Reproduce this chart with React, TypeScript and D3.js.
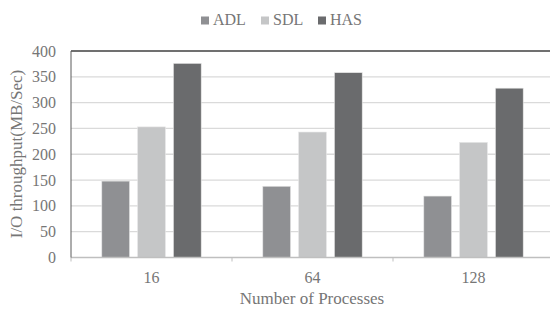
import React from 'react'
import * as d3 from 'd3'

const categories = ['16', '64', '128']
const seriesNames = ['ADL', 'SDL', 'HAS']
const adl = [148, 138, 119]
const sdl = [253, 243, 223]
const has = [376, 358, 328]
const yTicks = [0, 50, 100, 150, 200, 250, 300, 350, 400]

const colors = ['#8f9093', '#c5c6c7', '#6a6b6d']
const textColor = '#767676'
const font = "'Liberation Serif', 'Times New Roman', Times, serif"

const App = () => {
  const width = 550
  const height = 310
  const left = 71
  const right = 554
  const top = 51
  const bottom = 257.5

  const values = [adl, sdl, has]

  const x = d3.scaleBand().domain(categories).range([left, right])
  const xs = d3.scaleBand().domain(seriesNames).range([0, x.bandwidth()])
    .paddingInner(0.225).paddingOuter(0.86)
  const y = d3.scaleLinear().domain([0, 400]).range([bottom, top])

  // legend positions
  const legendX = [201, 261, 318]

  return (
    <svg width={width} height={height}
      style={{ position: 'absolute', left: 0, top: 0, background: '#fff', fontFamily: font }}>
      {yTicks.filter(t => t > 0).map(t => (
        <line key={'g' + t} x1={left} x2={width} y1={y(t)} y2={y(t)} stroke="#dadada" strokeWidth={1.3} />
      ))}

      {/* top border */}
      <line x1={left} x2={width} y1={top} y2={top} stroke="#4a4a4a" strokeWidth={1.3} />

      {categories.map((c, ci) => seriesNames.map((s, si) => {
        const v = values[si][ci]
        return (
          <rect key={c + s}
            x={x(c)! + xs(s)!}
            y={y(v)}
            width={xs.bandwidth()}
            height={y(0) - y(v)}
            fill={colors[si]}
            stroke="#e6e6e6"
            strokeWidth={0.6} />
        )
      }))}

      {/* x axis */}
      <line x1={left} x2={width} y1={bottom} y2={bottom} stroke="#bfbfbf" strokeWidth={1.3} />
      {categories.map(c => (
        <line key={'t' + c} x1={x(c)} x2={x(c)} y1={bottom} y2={bottom + 4} stroke="#bfbfbf" />
      ))}
      {/* y axis */}
      <line x1={left} x2={left} y1={top} y2={bottom} stroke="#5a5a5a" strokeWidth={1} />

      {yTicks.map(t => (
        <text key={'yl' + t} x={56} y={y(t)} dy="0.35em" textAnchor="end" fontSize={16} fill={textColor}>{t}</text>
      ))}
      {categories.map(c => (
        <text key={'xl' + c} x={x(c)! + x.bandwidth() / 2} y={283} textAnchor="middle" fontSize={16} fill={textColor}>{c}</text>
      ))}

      <text x={312} y={304} textAnchor="middle" fontSize={17} fill={textColor}>Number of Processes</text>
      <text transform={`translate(22,154) rotate(-90)`} textAnchor="middle" fontSize={17} fill={textColor}>
        I/O throughput(MB/Sec)
      </text>

      {seriesNames.map((s, i) => (
        <g key={'lg' + s}>
          <rect x={legendX[i]} y={16.5} width={8} height={8} fill={colors[i]} />
          <text x={legendX[i] + 12} y={25} fontSize={16} fill={textColor}>{s}</text>
        </g>
      ))}
    </svg>
  )
}

export default App
